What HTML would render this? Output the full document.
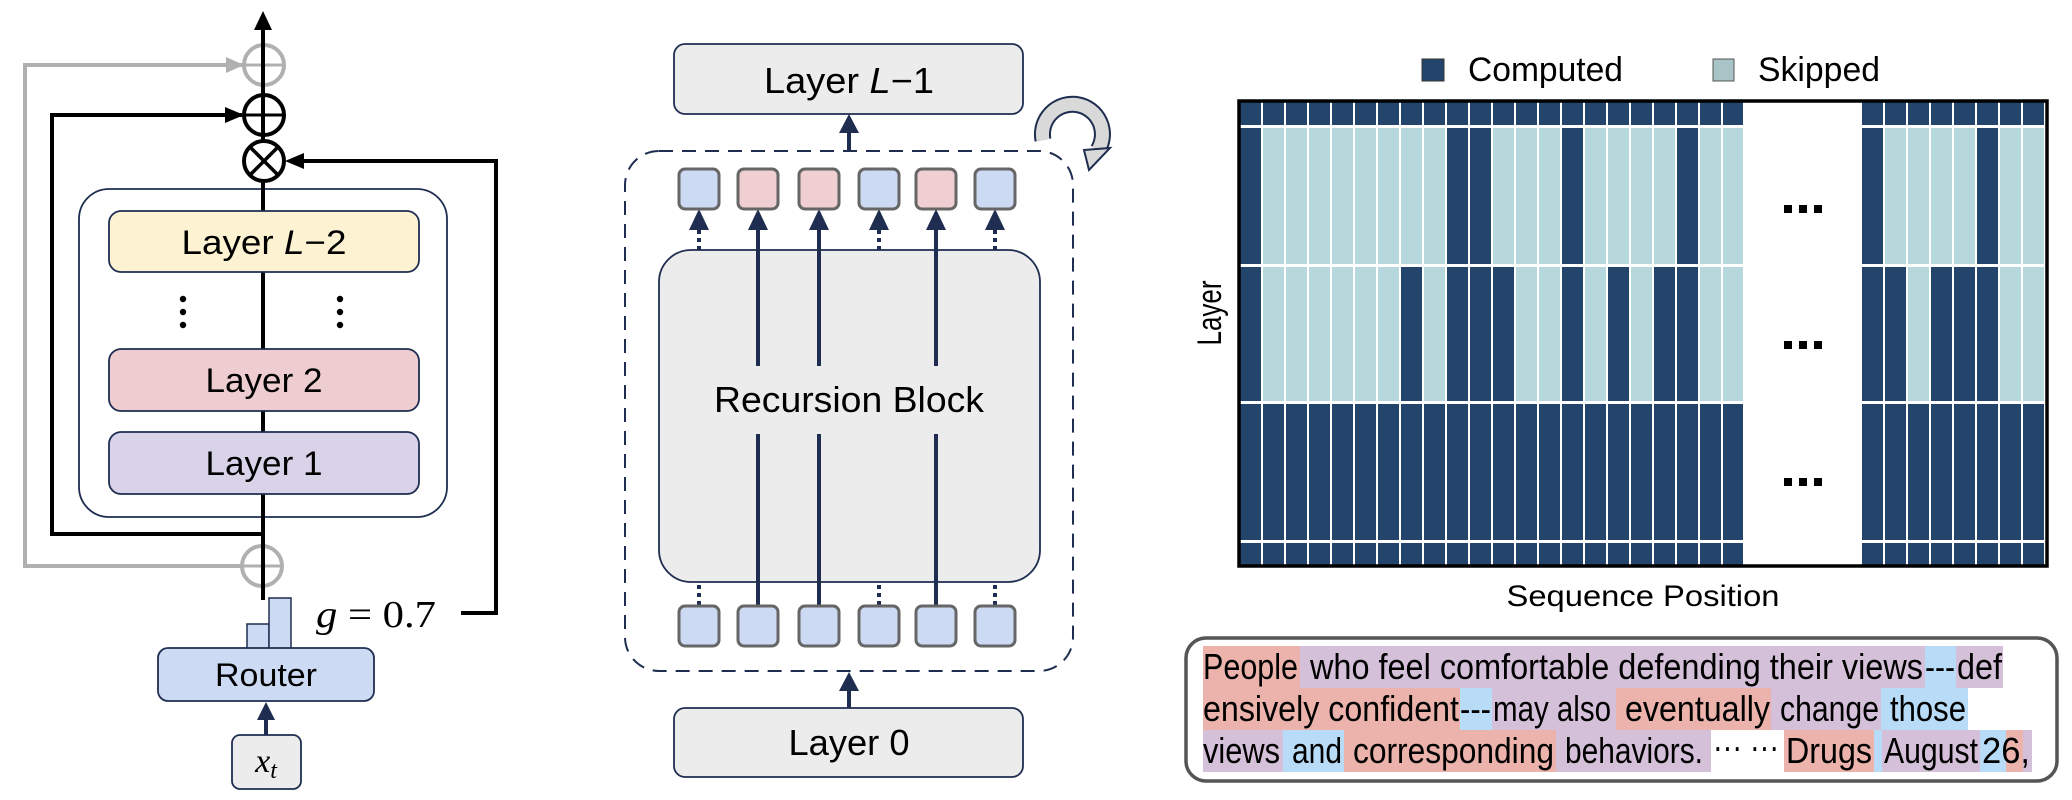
<!DOCTYPE html>
<html><head><meta charset="utf-8"><style>
html,body{margin:0;padding:0;background:#fff;}
svg{display:block;}
text{font-family:"Liberation Sans",sans-serif;}
.serif{font-family:"Liberation Serif",serif;font-style:italic;}
</style></head><body>
<svg width="2072" height="800" viewBox="0 0 2072 800" xmlns="http://www.w3.org/2000/svg">
<!-- ============ LEFT PANEL ============ -->
<polyline points="243,65 25,65 25,566 242,566" fill="none" stroke="#b0b0b0" stroke-width="4"/>
<polygon points="244,65 226,57 226,73" fill="#b0b0b0"/>
<circle cx="264" cy="65" r="20" fill="none" stroke="#b0b0b0" stroke-width="4"/>
<line x1="244" y1="65" x2="284" y2="65" stroke="#b0b0b0" stroke-width="3"/>
<circle cx="262" cy="566" r="20" fill="none" stroke="#b0b0b0" stroke-width="4"/>
<line x1="242" y1="566" x2="282" y2="566" stroke="#b0b0b0" stroke-width="3"/>
<polyline points="242,115 52,115 52,534 263,534" fill="none" stroke="#000" stroke-width="4"/>
<polygon points="244,115 225,107 225,123" fill="#000"/>
<rect x="79" y="189" width="368" height="328" rx="30" fill="#fff" stroke="#1f2d50" stroke-width="1.8"/>
<line x1="263" y1="600" x2="263" y2="28" stroke="#000" stroke-width="4"/>
<polygon points="263,11 254,30 272,30" fill="#000"/>
<circle cx="264" cy="115" r="20" fill="none" stroke="#000" stroke-width="4"/>
<line x1="244" y1="115" x2="284" y2="115" stroke="#000" stroke-width="3"/>
<circle cx="264" cy="161" r="20" fill="#fff" stroke="#000" stroke-width="4"/>
<line x1="250" y1="147" x2="278" y2="175" stroke="#000" stroke-width="3.5"/>
<line x1="278" y1="147" x2="250" y2="175" stroke="#000" stroke-width="3.5"/>
<polyline points="461,613 496,613 496,161 302,161" fill="none" stroke="#000" stroke-width="4"/>
<polygon points="285,161 304,153 304,169" fill="#000"/>
<rect x="109" y="211" width="310" height="61" rx="12" fill="#fdf3d3" stroke="#1f2d50" stroke-width="1.8"/>
<text x="264" y="254" font-size="34" text-anchor="middle" textLength="165" lengthAdjust="spacingAndGlyphs">Layer <tspan font-style="italic">L</tspan>−2</text>
<rect x="109" y="349" width="310" height="62" rx="12" fill="#eecdd0" stroke="#1f2d50" stroke-width="1.8"/>
<text x="264" y="392" font-size="34" text-anchor="middle" textLength="117" lengthAdjust="spacingAndGlyphs">Layer 2</text>
<rect x="109" y="432" width="310" height="62" rx="12" fill="#d8d3e8" stroke="#1f2d50" stroke-width="1.8"/>
<text x="264" y="475" font-size="34" text-anchor="middle" textLength="117" lengthAdjust="spacingAndGlyphs">Layer 1</text>
<g fill="#000">
<circle cx="183" cy="299" r="3.2"/><circle cx="183" cy="312" r="3.2"/><circle cx="183" cy="325" r="3.2"/>
<circle cx="340" cy="299" r="3.2"/><circle cx="340" cy="312" r="3.2"/><circle cx="340" cy="325" r="3.2"/>
</g>
<rect x="247" y="624" width="22" height="25" fill="#cddaf3" stroke="#1f2d50" stroke-width="1.5"/>
<rect x="269" y="598" width="22" height="51" fill="#cddaf3" stroke="#1f2d50" stroke-width="1.5"/>
<text x="316" y="627" class="serif" font-size="38" textLength="120" lengthAdjust="spacingAndGlyphs">g<tspan font-style="normal"> = 0.7</tspan></text>
<rect x="158" y="648" width="216" height="53" rx="10" fill="#cddaf3" stroke="#1f2d50" stroke-width="1.8"/>
<text x="266" y="686" font-size="32" text-anchor="middle" textLength="102" lengthAdjust="spacingAndGlyphs">Router</text>
<line x1="266" y1="735" x2="266" y2="718" stroke="#1f2d50" stroke-width="4"/>
<polygon points="266,702 257,720 275,720" fill="#1f2d50"/>
<rect x="232" y="735" width="69" height="54" rx="8" fill="#ececec" stroke="#1f2d50" stroke-width="1.8"/>
<text x="266" y="772" class="serif" font-size="34" text-anchor="middle">x<tspan font-size="24" dy="6">t</tspan></text>

<!-- ============ MIDDLE PANEL ============ -->
<rect x="674" y="44" width="349" height="70" rx="11" fill="#ececec" stroke="#1f2d50" stroke-width="1.8"/>
<text x="849" y="93" font-size="36" text-anchor="middle" textLength="170" lengthAdjust="spacingAndGlyphs">Layer <tspan font-style="italic">L</tspan>−1</text>
<line x1="849" y1="151" x2="849" y2="130" stroke="#1f2d50" stroke-width="4"/>
<polygon points="849,114 839,133 859,133" fill="#1f2d50"/>
<rect x="625" y="151" width="448" height="520" rx="34" fill="none" stroke="#1f2d50" stroke-width="2" stroke-dasharray="14,9"/>
<line x1="849" y1="708" x2="849" y2="688" stroke="#1f2d50" stroke-width="4"/>
<polygon points="849,672 839,691 859,691" fill="#1f2d50"/>
<rect x="674" y="708" width="349" height="69" rx="11" fill="#ececec" stroke="#1f2d50" stroke-width="1.8"/>
<text x="849" y="755" font-size="36" text-anchor="middle" textLength="121" lengthAdjust="spacingAndGlyphs">Layer 0</text>
<rect x="659" y="250" width="381" height="332" rx="32" fill="#ececec" stroke="#1f2d50" stroke-width="1.8"/>
<text x="849" y="412" font-size="36" text-anchor="middle" textLength="270" lengthAdjust="spacingAndGlyphs">Recursion Block</text>
<g stroke="#1f2d50" stroke-width="4">
<line x1="758" y1="228" x2="758" y2="366"/><line x1="819" y1="228" x2="819" y2="366"/><line x1="936" y1="228" x2="936" y2="366"/>
<line x1="758" y1="434" x2="758" y2="606"/><line x1="819" y1="434" x2="819" y2="606"/><line x1="936" y1="434" x2="936" y2="606"/>
</g>
<g stroke="#1f2d50" stroke-width="4" stroke-dasharray="4,4">
<line x1="699" y1="230" x2="699" y2="250"/><line x1="879" y1="230" x2="879" y2="250"/><line x1="995" y1="230" x2="995" y2="250"/>
<line x1="699" y1="585" x2="699" y2="606"/><line x1="879" y1="585" x2="879" y2="606"/><line x1="995" y1="585" x2="995" y2="606"/>
</g>
<g fill="#1f2d50">
<polygon points="699,209 689,230 709,230"/><polygon points="758,209 748,230 768,230"/><polygon points="819,209 809,230 829,230"/>
<polygon points="879,209 869,230 889,230"/><polygon points="936,209 926,230 946,230"/><polygon points="995,209 985,230 1005,230"/>
</g>
<g stroke="#666" stroke-width="3">
<rect x="679" y="169" width="40" height="40" rx="6" fill="#cddaf3"/>
<rect x="738" y="169" width="40" height="40" rx="6" fill="#f0cfd2"/>
<rect x="799" y="169" width="40" height="40" rx="6" fill="#f0cfd2"/>
<rect x="859" y="169" width="40" height="40" rx="6" fill="#cddaf3"/>
<rect x="916" y="169" width="40" height="40" rx="6" fill="#f0cfd2"/>
<rect x="975" y="169" width="40" height="40" rx="6" fill="#cddaf3"/>
<rect x="679" y="606" width="40" height="40" rx="6" fill="#cddaf3"/>
<rect x="738" y="606" width="40" height="40" rx="6" fill="#cddaf3"/>
<rect x="799" y="606" width="40" height="40" rx="6" fill="#cddaf3"/>
<rect x="859" y="606" width="40" height="40" rx="6" fill="#cddaf3"/>
<rect x="916" y="606" width="40" height="40" rx="6" fill="#cddaf3"/>
<rect x="975" y="606" width="40" height="40" rx="6" fill="#cddaf3"/>
</g>
<path d="M1043,140 A30,30 0 1 1 1098,150" fill="none" stroke="#1f2d50" stroke-width="17"/>
<path d="M1043,140 A30,30 0 1 1 1098,150" fill="none" stroke="#d9d9d9" stroke-width="13"/>
<polygon points="1084,150 1110,148 1089,170" fill="#d9d9d9" stroke="#1f2d50" stroke-width="2"/>

<!-- ============ HEATMAP ============ -->
<rect x="1422" y="59" width="22" height="22" fill="#24456b" stroke="#333" stroke-width="1"/>
<text x="1468" y="81" font-size="34" textLength="155" lengthAdjust="spacingAndGlyphs">Computed</text>
<rect x="1713" y="59" width="21" height="22" fill="#a9c4c7" stroke="#555" stroke-width="1"/>
<text x="1758" y="81" font-size="34" textLength="122" lengthAdjust="spacingAndGlyphs">Skipped</text>
<text transform="translate(1221,313) rotate(-90)" font-size="34" text-anchor="middle" textLength="65" lengthAdjust="spacingAndGlyphs">Layer</text>
<text x="1643" y="606" font-size="30" text-anchor="middle" textLength="273" lengthAdjust="spacingAndGlyphs">Sequence Position</text>
<rect x="1240" y="102" width="806" height="463" fill="#fff"/>
<g id="cells"></g>
<rect x="1239" y="101" width="808" height="465" fill="none" stroke="#000" stroke-width="3.5"/>
<g fill="#000">
<rect x="1784" y="205" width="8" height="8"/><rect x="1799" y="205" width="8" height="8"/><rect x="1814" y="205" width="8" height="8"/>
<rect x="1784" y="341" width="8" height="8"/><rect x="1799" y="341" width="8" height="8"/><rect x="1814" y="341" width="8" height="8"/>
<rect x="1784" y="478" width="8" height="8"/><rect x="1799" y="478" width="8" height="8"/><rect x="1814" y="478" width="8" height="8"/>
</g>

<!-- ============ TEXT BOX ============ -->
<rect x="1186" y="638" width="871" height="143" rx="20" fill="#fff" stroke="#555" stroke-width="3.5"/>
<g>
<rect x="1203" y="646" width="97" height="42" fill="#ebb3ab"/>
<rect x="1300" y="646" width="625" height="42" fill="#d5c0d9"/>
<rect x="1925" y="646" width="31" height="42" fill="#b8dcf7"/>
<rect x="1956" y="646" width="47" height="42" fill="#d5c0d9"/>
<rect x="1203" y="688" width="257" height="42" fill="#ebb3ab"/>
<rect x="1460" y="688" width="32" height="42" fill="#b8dcf7"/>
<rect x="1492" y="688" width="124" height="42" fill="#d5c0d9"/>
<rect x="1616" y="688" width="155" height="42" fill="#ebb3ab"/>
<rect x="1771" y="688" width="110" height="42" fill="#d5c0d9"/>
<rect x="1881" y="688" width="87" height="42" fill="#b8dcf7"/>
<rect x="1203" y="730" width="80" height="42" fill="#d5c0d9"/>
<rect x="1283" y="730" width="61" height="42" fill="#b8dcf7"/>
<rect x="1344" y="730" width="212" height="42" fill="#ebb3ab"/>
<rect x="1556" y="730" width="155" height="42" fill="#d5c0d9"/>
<rect x="1784" y="730" width="90" height="42" fill="#ebb3ab"/>
<rect x="1874" y="730" width="8" height="42" fill="#b8dcf7"/>
<rect x="1882" y="730" width="98" height="42" fill="#d5c0d9"/>
<rect x="1980" y="730" width="26" height="42" fill="#b8dcf7"/>
<rect x="2006" y="730" width="17" height="42" fill="#ebb3ab"/>
<rect x="2023" y="730" width="9" height="42" fill="#d5c0d9"/>
</g>
<g font-size="36">
<text x="1203" y="679" textLength="95" lengthAdjust="spacingAndGlyphs">People</text>
<text x="1310" y="679" textLength="613" lengthAdjust="spacingAndGlyphs">who feel comfortable defending their views</text>
<text x="1925" y="679" textLength="30" lengthAdjust="spacingAndGlyphs">---</text>
<text x="1957" y="679" textLength="45" lengthAdjust="spacingAndGlyphs">def</text>
<text x="1203" y="721" textLength="256" lengthAdjust="spacingAndGlyphs">ensively confident</text>
<text x="1460" y="721" textLength="31" lengthAdjust="spacingAndGlyphs">---</text>
<text x="1493" y="721" textLength="118" lengthAdjust="spacingAndGlyphs">may also</text>
<text x="1625" y="721" textLength="145" lengthAdjust="spacingAndGlyphs">eventually</text>
<text x="1780" y="721" textLength="99" lengthAdjust="spacingAndGlyphs">change</text>
<text x="1890" y="721" textLength="76" lengthAdjust="spacingAndGlyphs">those</text>
<text x="1203" y="763" textLength="77" lengthAdjust="spacingAndGlyphs">views</text>
<text x="1292" y="763" textLength="50" lengthAdjust="spacingAndGlyphs">and</text>
<text x="1353" y="763" textLength="201" lengthAdjust="spacingAndGlyphs">corresponding</text>
<text x="1565" y="763" textLength="138" lengthAdjust="spacingAndGlyphs">behaviors.</text>
<text x="1713" y="759" textLength="66" lengthAdjust="spacingAndGlyphs">··· ···</text>
<text x="1786" y="763" textLength="86" lengthAdjust="spacingAndGlyphs">Drugs</text>
<text x="1884" y="763" textLength="94" lengthAdjust="spacingAndGlyphs">August</text>
<text x="1982" y="763" textLength="48" lengthAdjust="spacingAndGlyphs">26,</text>
</g>
</svg>
<script>
(function(){
var g=document.getElementById('cells');var ns='http://www.w3.org/2000/svg';
var rows=[[102,125],[128,264],[267,401],[404,540],[543,565]];
var D='#24456b',L='#b6d7dc';
var r2='1000000001100010000100',r3='1000000101110010101100';
var q2='10000100',q3='11011100';
function cell(x,y,w,h,c){var e=document.createElementNS(ns,'rect');e.setAttribute('x',x);e.setAttribute('y',y);e.setAttribute('width',w);e.setAttribute('height',h);e.setAttribute('fill',c);g.appendChild(e);}
for(var ri=0;ri<5;ri++){var y=rows[ri][0],h=rows[ri][1]-rows[ri][0];
 for(var i=0;i<22;i++){var c=D;if(ri==1)c=r2[i]=='1'?D:L;if(ri==2)c=r3[i]=='1'?D:L;
  var x=1240+i*23;cell(x,y,i==21?20:21,h,c);}
 for(var j=0;j<8;j++){var c2=D;if(ri==1)c2=q2[j]=='1'?D:L;if(ri==2)c2=q3[j]=='1'?D:L;
  var x2=1862+j*23;cell(x2,y,21,h,c2);}
}
})();
</script>
</body></html>
